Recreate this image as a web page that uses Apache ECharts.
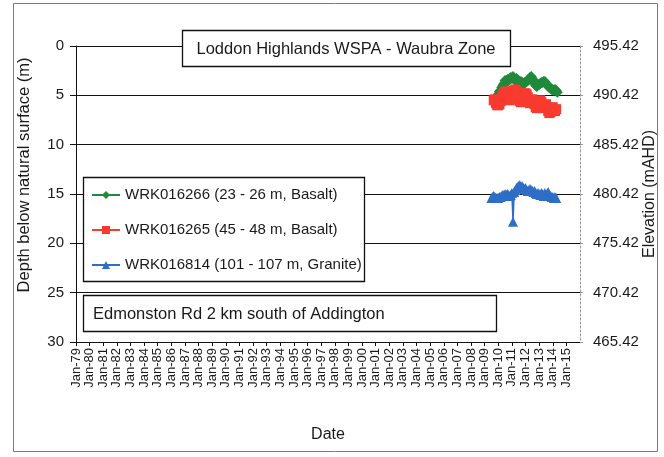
<!DOCTYPE html>
<html>
<head>
<meta charset="utf-8">
<script src="https://cdn.jsdelivr.net/npm/echarts@6/dist/echarts.min.js"></script>
<style>
  html, body { margin: 0; padding: 0; background: #fff; }
  #chart { width: 664px; height: 457px; }
</style>
</head>
<body>
<div id="chart"></div>
<script>
// Monthly water-level readings, depth below natural surface (m)
const surfaceElevation = 495.42;

const green266Start = '2010-01';
const green266Depth = [
  4.9, 4.6, 4.5, 4.2, 4.0, 3.8, 3.5, 3.7, 3.4, 3.5, 3.3, 3.2,
  3.3, 3.1, 3.4, 3.5, 3.3, 3.4, 3.6, 3.8, 3.6, 3.7, 3.9, 3.7,
  3.7, 3.6, 3.5, 3.4, 3.2, 3.1, 3.3, 3.5, 3.8, 4.0, 4.1, 3.9,
  3.9, 3.8, 3.7, 3.7, 3.6, 3.6, 3.8, 3.9, 4.1, 4.2, 4.3, 4.4,
  4.4, 4.5, 4.4, 4.5, 4.7
];

const red265Start = '2009-09';
const red265Depth = [
  5.5, 5.4, 5.8, 6.0,
  6.0, 5.9, 5.6, 5.3, 5.0, 4.8, 4.7, 4.6, 4.8, 5.2, 5.5, 5.4,
  4.9, 4.6, 4.5, 4.4, 4.6, 4.9, 5.3, 5.6, 5.7, 5.4, 4.9, 4.8,
  4.8, 4.9, 5.2, 5.6, 5.8, 5.5, 5.4, 5.6, 5.9, 6.2, 6.3, 6.0,
  5.6, 5.5, 5.7, 6.1, 6.3, 6.2, 5.9, 6.2, 6.6, 6.8, 6.7, 6.3,
  6.2, 6.5, 6.6, 6.4
];

const blue814Start = '2009-07';
const blue814Depth = [
  15.4, 15.3, 15.2, 15.3, 15.4, 15.4,
  15.4, 15.3, 15.3, 15.2, 15.1, 15.1, 15.0, 15.1, 15.0, 15.1, 15.2, 15.1,
  14.9, 17.8, 14.8, 14.6, 14.4, 14.3, 14.2, 14.1, 14.3, 14.2, 14.4, 14.5,
  14.4, 14.6, 14.7, 14.6, 14.5, 14.6, 14.7, 14.8, 14.7, 14.9, 15.0, 14.9,
  15.0, 15.1, 14.9, 15.0, 15.2, 14.9, 15.1, 15.0, 14.8, 15.1, 15.2, 15.3,
  15.3, 15.4, 15.3, 15.4
];

const seriesNames = [
  'WRK016266 (23 - 26 m, Basalt)',
  'WRK016265 (45 - 48 m, Basalt)',
  'WRK016814 (101 - 107 m, Granite)'
];
const seriesColors = ['#1f8a3b', '#f83a2f', '#2f6ec6'];
const seriesSymbols = ['diamond', 'rect', 'triangle'];
const seriesSymbolSizes = [11, 10, 10];

const yearFirst = 1979;
const yearLast = 2016;
const depthTicks = [0, 5, 10, 15, 20, 25, 30];

const chartTitle = 'Loddon Highlands WSPA - Waubra Zone';
const siteNote = 'Edmonston Rd 2 km south of Addington';

// month string -> decimal year on the date axis
function monthToYear(ym) {
  const parts = ym.split('-').map(Number);
  return parts[0] + (parts[1] - 1) / 12;
}
function pairs(start, values) {
  const t0 = monthToYear(start);
  return values.map((v, i) => [t0 + i / 12, v]);
}
// "Jan-yy" for each whole year, the closing year left blank
function yearLabel(v) {
  if (v >= yearLast) return '';
  return 'Jan-' + String(Math.round(v) % 100).padStart(2, '0');
}

const FONT = '"Liberation Sans", Arial, sans-serif';
const INK = '#1a1a1a';

const chart = echarts.init(document.getElementById('chart'), null, { renderer: 'canvas' });

const data = [
  pairs(green266Start, green266Depth),
  pairs(red265Start, red265Depth),
  pairs(blue814Start, blue814Depth)
];

chart.setOption({
  animation: false,
  backgroundColor: '#fff',
  textStyle: { fontFamily: FONT },
  grid: { left: 76, right: 84, top: 46, bottom: 115, containLabel: false, outerBoundsMode: 'none' },
  xAxis: {
    type: 'value',
    min: yearFirst,
    max: yearLast,
    interval: 1,
    name: 'Date',
    nameLocation: 'middle',
    nameGap: 85,
    nameMoveOverlap: false,
    nameTextStyle: { fontSize: 16, color: INK, fontFamily: FONT },
    axisLine: { show: true, onZero: false, lineStyle: { color: '#111', width: 1 } },
    axisTick: { show: true, length: 4, lineStyle: { color: '#111' } },
    splitLine: { show: false },
    axisLabel: {
      rotate: 90,
      margin: 6,
      fontSize: 13,
      color: INK,
      fontFamily: FONT,
      showMaxLabel: false,
      hideOverlap: false,
      formatter: yearLabel
    }
  },
  yAxis: [
    {
      type: 'value',
      min: depthTicks[0],
      max: depthTicks[depthTicks.length - 1],
      interval: 5,
      inverse: true,
      name: 'Depth below natural surface (m)',
      nameLocation: 'middle',
      nameRotate: 90,
      nameGap: 43,
      nameMoveOverlap: false,
      nameTextStyle: { fontSize: 16.5, color: INK, fontFamily: FONT, padding: [0, 0, 0, 38] },
      axisLine: { show: true, lineStyle: { color: '#111', width: 1 } },
      axisTick: { show: true, length: 6, lineStyle: { color: '#111' } },
      splitLine: { show: true, lineStyle: { color: '#111', width: 1 } },
      axisLabel: { fontSize: 15, color: INK, margin: 12, fontFamily: FONT }
    },
    {
      type: 'value',
      min: depthTicks[0],
      max: depthTicks[depthTicks.length - 1],
      interval: 5,
      inverse: true,
      position: 'right',
      name: 'Elevation (mAHD)',
      nameLocation: 'middle',
      nameRotate: 90,
      nameGap: 62,
      nameMoveOverlap: false,
      nameTextStyle: { fontSize: 16, color: INK, fontFamily: FONT },
      axisLine: { show: true, lineStyle: { color: '#9a9a9a', width: 1, type: [2, 2] } },
      axisTick: { show: true, length: 3, lineStyle: { color: '#9a9a9a' } },
      splitLine: { show: false },
      axisLabel: {
        fontSize: 15, color: INK, margin: 13, fontFamily: FONT,
        formatter: v => (surfaceElevation - v).toFixed(2)
      }
    }
  ],
  legend: {
    orient: 'vertical',
    left: 91,
    top: 187,
    padding: 0,
    itemWidth: 28,
    itemHeight: 10,
    itemGap: 19,
    z: 10,
    textStyle: { fontSize: 15, color: INK, lineHeight: 16, fontFamily: FONT },
    data: seriesNames
  },
  graphic: [
    {
      type: 'rect', z: 100, silent: true,
      shape: { x: 13.5, y: 3.5, width: 644, height: 448 },
      style: { fill: 'none', stroke: '#7a7a7a', lineWidth: 1 }
    },
    {
      type: 'rect', z: 5, silent: true,
      shape: { x: 182.5, y: 30.5, width: 328, height: 36 },
      style: { fill: '#fff', stroke: '#111', lineWidth: 1.3 }
    },
    {
      type: 'text', z: 6, silent: true,
      x: 346, y: 49,
      style: { text: chartTitle, fontSize: 16.5, fontFamily: FONT, fill: INK, align: 'center', verticalAlign: 'middle' }
    },
    {
      type: 'rect', z: 5, silent: true,
      shape: { x: 83.5, y: 177.5, width: 281, height: 104 },
      style: { fill: '#fff', stroke: '#111', lineWidth: 1.3 }
    },
    {
      type: 'rect', z: 5, silent: true,
      shape: { x: 83.5, y: 295.5, width: 413, height: 36 },
      style: { fill: '#fff', stroke: '#111', lineWidth: 1.3 }
    },
    {
      type: 'text', z: 6, silent: true,
      x: 93, y: 314,
      style: { text: siteNote, fontSize: 16.5, fontFamily: FONT, fill: INK, align: 'left', verticalAlign: 'middle' }
    }
  ],
  series: seriesNames.map((name, i) => ({
    name: name,
    type: 'line',
    data: data[i],
    yAxisIndex: 0,
    symbol: seriesSymbols[i],
    symbolSize: seriesSymbolSizes[i],
    showAllSymbol: true,
    color: seriesColors[i],
    lineStyle: { color: seriesColors[i], width: 1.5 },
    itemStyle: { color: seriesColors[i] },
    z: 2 + i
  }))
});
</script>
</body>
</html>
